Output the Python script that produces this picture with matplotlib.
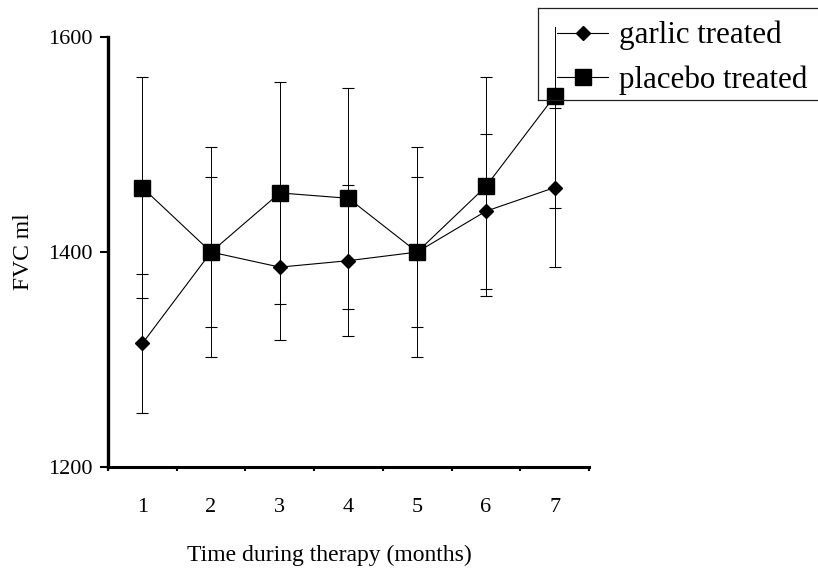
import matplotlib
matplotlib.use("Agg")
import matplotlib.pyplot as plt

plt.rcParams["font.family"] = ["Liberation Serif", "DejaVu Serif"]

# data (means and SD)
months = [1, 2, 3, 4, 5, 6, 7]
garlic_mean = [1315, 1400, 1386, 1392, 1400, 1438, 1460]
garlic_sd = [65, 70, 68, 70, 70, 72, 74]
placebo_mean = [1460, 1400, 1455, 1450, 1400, 1461, 1545]
placebo_sd = [103, 98, 103, 103, 98, 102, 104]

W, H = 818, 569
fig = plt.figure(figsize=(W / 100, H / 100), dpi=100)
ax = fig.add_axes([0.132, 0.179, 0.588, 0.773])

# error bars first, then the lines + markers on top
ax.errorbar(months, garlic_mean, yerr=garlic_sd, fmt="none", ecolor="black",
            elinewidth=0.7, capsize=4.5, capthick=0.8, zorder=2)
ax.errorbar(months, placebo_mean, yerr=placebo_sd, fmt="none", ecolor="black",
            elinewidth=0.7, capsize=4.5, capthick=0.8, zorder=2)
l1, = ax.plot(months, garlic_mean, color="black", lw=0.8, marker="D",
              markersize=7.2, label="garlic treated", zorder=3)
l2, = ax.plot(months, placebo_mean, color="black", lw=0.8, marker="s",
              markersize=11, label="placebo treated", zorder=4)

ax.set_xlim(0.5, 7.5)
ax.set_ylim(1200, 1609)

for s in ["top", "right"]:
    ax.spines[s].set_visible(False)
ax.spines["left"].set_linewidth(2.4)
ax.spines["bottom"].set_linewidth(2.2)
ax.spines["left"].set_bounds(1200, 1600)

ax.set_yticks([1200, 1400, 1600])
ax.tick_params(axis="y", direction="out", length=6, width=1.5, labelsize=16, pad=5)
ax.set_xticks(months)
ax.set_xticks([0.5, 1.5, 2.5, 3.5, 4.5, 5.5, 6.5, 7.5], minor=True)
ax.tick_params(axis="x", which="major", length=0, labelsize=16, pad=22)
ax.tick_params(axis="x", which="minor", direction="out", length=3, width=1.5)

ax.set_ylabel("FVC ml", fontsize=17)
ax.yaxis.set_label_coords(-0.153, 0.49)
ax.set_xlabel("Time during therapy (months)", fontsize=17, va="top")
ax.xaxis.set_label_coords(0.46, -0.177)

# legend without its own frame; box edges drawn separately (cut by the right edge)
leg = fig.legend(handles=[l1, l2], loc="upper left",
                 bbox_to_anchor=(557 / W, 1 - 21 / H), fontsize=22.3,
                 frameon=False, handlelength=1.65, handletextpad=0.35,
                 borderpad=0, labelspacing=0.48, borderaxespad=0)
bx0, by_top, by_bot = 538 / W, 1 - 8 / H, 1 - 100 / H
for xs, ys in [([bx0, 1.05], [by_top, by_top]),
               ([bx0, 1.05], [by_bot, by_bot]),
               ([bx0, bx0], [by_top, by_bot])]:
    fig.add_artist(plt.Line2D(xs, ys, transform=fig.transFigure,
                              color="#222222", linewidth=0.9))

fig.savefig("out.png", dpi=100)
